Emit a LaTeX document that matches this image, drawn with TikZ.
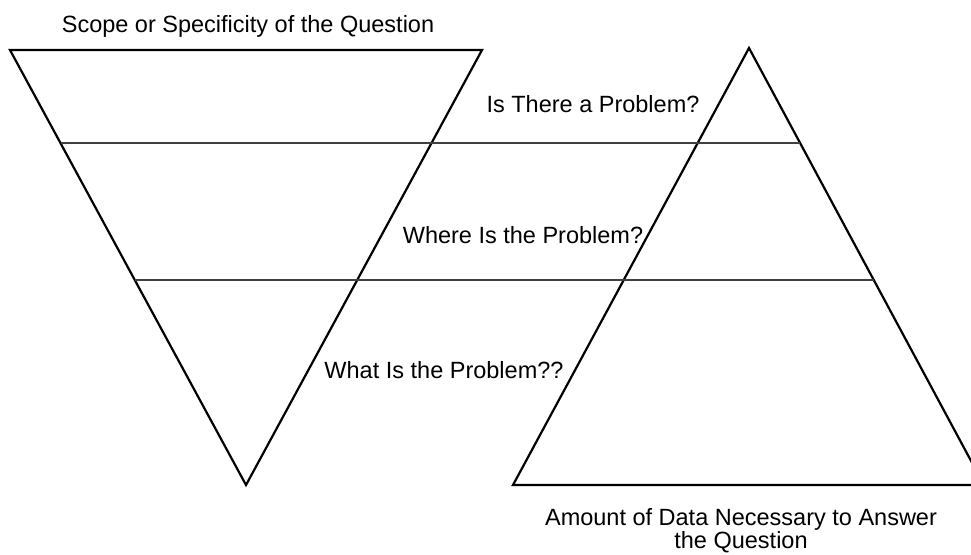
\documentclass[tikz,border=0pt]{standalone}
\usepackage{fontspec}
\setmainfont{Liberation Sans}
\begin{document}
\begin{tikzpicture}[x=1pt,y=-1pt,
  tri/.style={draw=black,line width=2.2pt,line join=miter},
  level/.style={draw=black!75,line width=1.5pt},
  lbl/.style={anchor=base,inner sep=0pt,font=\fontsize{23.5}{27}\selectfont}]
\useasboundingbox (0,0) rectangle (971,554);
\clip (0,0) rectangle (971,554);
% inverted triangle (scope)
\draw[tri] (10,50) -- (482,50) -- (246,485) -- cycle;
% upright triangle (data)
\draw[tri] (749,48) -- (984,485) -- (513,485) -- cycle;
% level lines
\coordinate (l1a) at (60.5,143);
\coordinate (l1b) at (800,143);
\coordinate (l2a) at (135,280);
\coordinate (l2b) at (873.5,280);
\draw[level] (l1a) -- (l1b);
\draw[level] (l2a) -- (l2b);
% labels
\node[lbl] (scope) at (248,32) {Scope or Specificity of the Question};
\node[lbl] (q1) at (593,112) {Is There a Problem?};
\node[lbl] (q2) at (523,243) {Where Is the Problem?};
\node[lbl] (q3) at (444,378) {What Is the Problem??};
\node[lbl] (amt1) at (741,525) {Amount of Data Necessary to Answer};
\node[lbl] (amt2) at (741,548.5) {the Question};
\end{tikzpicture}
\end{document}
